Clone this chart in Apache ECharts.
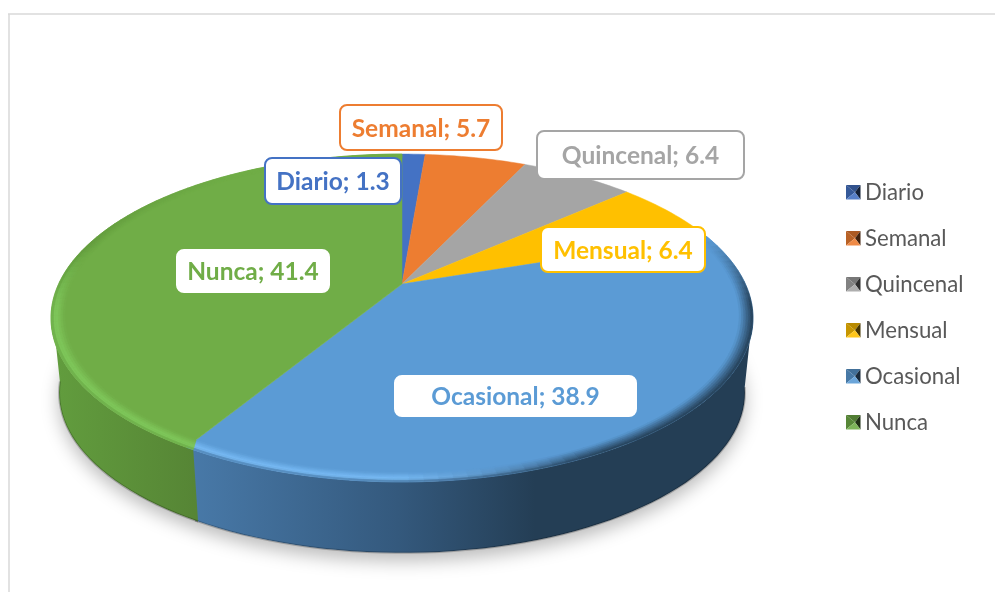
<!DOCTYPE html>
<html>
<head>
<meta charset="utf-8">
<style>
  html, body { margin: 0; padding: 0; background: #fff; }
  #chart { width: 995px; height: 592px; }
</style>
<script src="https://cdn.jsdelivr.net/npm/echarts@6/dist/echarts.min.js"></script>
</head>
<body>
<div id="chart"></div>
<script>
var categories = ['Diario', 'Semanal', 'Quincenal', 'Mensual', 'Ocasional', 'Nunca'];
var values = [1.3, 5.7, 6.4, 6.4, 38.9, 41.4];

var colors = ['#4472c4', '#ed7d31', '#a5a5a5', '#ffc000', '#5b9bd5', '#70ad47'];
var rimLight = ['#4472c4', '#ed7d31', '#a5a5a5', '#ffc000', '#7abdf6', '#80ca5d'];
// caja de cada etiqueta: izquierda, arriba, ancho, alto
var labelBoxes = [
  [265, 158, 136, 46], [340, 105, 162, 45], [537, 131, 207, 48],
  [541, 227, 164, 45], [395, 376, 241, 40], [177, 250, 152, 42]
];
var labelBorders = ['#4472c4', '#ed7d31', '#a5a5a5', '#ffc000', '#ffffff', '#ffffff'];

// proyeccion en perspectiva del disco
var apexX = 402, apexY = 284;
var scaleX = 343.4, scaleY = 156.9, persp = 0.2073;
var depth = 75.5, bottomScale = 0.977;
var seamShift = 1.2;

var total = values.reduce(function (a, b) { return a + b; }, 0);
var cum = 0;
var seriesData = values.map(function (v, i) {
  var row = [i, v, cum];
  cum += v;
  return row;
});
var seamAngle = seriesData[5][2] / total * 360;

function project(deg, r) {
  var t = deg * Math.PI / 180;
  var u = Math.sin(t) * r, v = Math.cos(t) * r;
  var w = 1 + persp * v;
  return [apexX + scaleX * u / w, apexY - scaleY * v / w];
}
function projectBottom(deg) {
  var t = deg * Math.PI / 180;
  var u = Math.sin(t), v = Math.cos(t);
  var w = 1 + persp * v;
  return [apexX + bottomScale * scaleX * u / w, apexY + depth - bottomScale * scaleY * v / w];
}
function range(a, b, step) {
  var out = [];
  var n = Math.max(1, Math.ceil((b - a) / step));
  for (var i = 0; i <= n; i++) out.push(a + (b - a) * i / n);
  return out;
}
function rgb(hex) {
  return [parseInt(hex.substr(1, 2), 16), parseInt(hex.substr(3, 2), 16), parseInt(hex.substr(5, 2), 16)];
}
function mix(a, b, t) {
  var c1 = rgb(a), c2 = rgb(b);
  var s = '#';
  for (var i = 0; i < 3; i++) {
    var c = Math.round(c1[i] + (c2[i] - c1[i]) * t);
    s += (c < 16 ? '0' : '') + c.toString(16);
  }
  return s;
}
function clamp(x) { return Math.max(0, Math.min(1, x)); }
function sliceAngles(api) {
  var a0 = api.value(2) / total * 360;
  return [a0, a0 + api.value(1) / total * 360];
}
// la costura azul/verde se endereza al llegar al borde
function seamWarp(d, amount) {
  return d - amount * clamp(1 - Math.abs(d - seamAngle) / 5);
}

var wallFill = [
  null, null, null, null,
  { type: 'linear', x: 192, y: 0, x2: 535, y2: 0, global: true, colorStops: [
    { offset: 0, color: '#4879a8' }, { offset: 0.6, color: '#34597d' }, { offset: 1, color: '#243e55' }
  ] },
  { type: 'linear', x: 52, y: 0, x2: 196, y2: 0, global: true, colorStops: [
    { offset: 0, color: '#629d3e' }, { offset: 1, color: '#568535' }
  ] }
];

function renderShadow(params, api) {
  if (params.dataIndex !== 0) return;
  var pts = range(0, 360, 3).map(projectBottom);
  return {
    type: 'polygon',
    shape: { points: pts },
    style: { fill: '#ffffff', shadowBlur: 18, shadowColor: 'rgba(0,0,0,0.27)', shadowOffsetY: 8 }
  };
}

function renderWall(params, api) {
  var i = params.dataIndex;
  if (!wallFill[i]) return;
  var a = sliceAngles(api);
  var a0 = Math.max(seamWarp(a[0], seamShift), 100), a1 = Math.min(seamWarp(a[1], seamShift), 262);
  // la pared azul pasa un poco por debajo de la verde para que no quede rendija
  if (i === 4) a1 += 0.5;
  var steps = range(a0, a1, 2);
  var top = steps.map(function (d) { return project(d, 1); });
  var bottom = steps.map(projectBottom);
  return {
    type: 'group',
    children: [
      {
        type: 'polygon',
        shape: { points: top.concat(bottom.slice().reverse()) },
        style: { fill: wallFill[i] }
      },
      {
        type: 'polyline',
        shape: { points: bottom },
        style: { fill: null, stroke: 'rgba(0,0,0,0.22)', lineWidth: 2 }
      }
    ]
  };
}

function renderFace(params, api) {
  var i = params.dataIndex;
  var a = sliceAngles(api);
  var pts = [[apexX, apexY]].concat(range(a[0], a[1], 1.5).map(function (d) { return project(d, 1); }));
  return {
    type: 'polygon',
    shape: { points: pts },
    style: { fill: colors[i], stroke: colors[i], lineWidth: 0.5 }
  };
}

// borde biselado del disco, claro a la izquierda y oscuro a la derecha
function renderBevel(params, api) {
  var i = params.dataIndex;
  if (i < 4) return;
  var a = sliceAngles(api);
  var bands = 6, inner = 0.962;
  var children = [];
  var steps = range(a[0], a[1], 2);
  for (var b = 0; b < bands; b++) {
    var r0 = inner + (1 - inner) * b / bands;
    var r1 = inner + (1 - inner) * (b + 1) / bands;
    var t = (b + 0.5) / bands;
    for (var k = 0; k < steps.length - 1; k++) {
      var d = (steps[k] + steps[k + 1]) / 2;
      var light, front, edge;
      if (i === 4) {
        light = clamp((d - 155) / 25);
        front = clamp((d - 72) / 25);
        edge = mix('#243e55', '#3f6d9a', clamp((d - 150) / 40));
      } else {
        light = clamp((285 - d) / 25);
        front = clamp((325 - d) / 55);
        edge = mix('#66a341', '#5d9439', clamp((d - 265) / 20));
      }
      var darkCol = mix(colors[i], edge, t);
      var lightCol = t < 0.7 ? mix(colors[i], rimLight[i], t / 0.7) : mix(rimLight[i], edge, (t - 0.7) / 0.3 * 0.8);
      var col = mix(colors[i], mix(darkCol, lightCol, light), front);
      var s0 = seamShift * b / bands, s1 = seamShift * (b + 1) / bands;
      children.push({
        type: 'polygon',
        shape: { points: [
          project(seamWarp(steps[k], s0), r0), project(seamWarp(steps[k + 1], s0), r0),
          project(seamWarp(steps[k + 1], s1), r1), project(seamWarp(steps[k], s1), r1)
        ] },
        style: { fill: col, stroke: col, lineWidth: 0.6 }
      });
    }
  }
  return { type: 'group', children: children };
}

function renderLabel(params, api) {
  var i = params.dataIndex;
  var box = labelBoxes[i];
  return {
    type: 'group',
    children: [
      {
        type: 'rect',
        shape: { x: box[0], y: box[1], width: box[2], height: box[3], r: 7 },
        style: { fill: '#ffffff', stroke: labelBorders[i], lineWidth: 2 }
      },
      {
        type: 'text',
        style: {
          x: box[0] + box[2] / 2,
          y: box[1] + box[3] / 2 + 1.5,
          text: categories[i] + '; ' + api.value(1),
          align: 'center',
          verticalAlign: 'middle',
          fill: colors[i],
          font: 'bold 24.5px Lato'
        }
      }
    ]
  };
}

// cuadro de leyenda con cuatro triangulos, como el bisel del original
function renderLegend(params, api) {
  var i = params.dataIndex;
  var x = 846, y = 185 + i * 46, s = 14.5;
  var cx = x + s * 0.62, cy = y + s * 0.5;
  var base = colors[i];
  function tri(p1, p2, col) {
    return { type: 'polygon', shape: { points: [p1, p2, [cx, cy]] }, style: { fill: col } };
  }
  return {
    type: 'group',
    children: [
      tri([x, y], [x + s, y], mix(base, '#000000', 0.28)),
      tri([x, y + s], [x, y], mix(base, '#000000', 0.22)),
      tri([x + s, y], [x + s, y + s], mix(base, '#000000', 0.72)),
      tri([x + s, y + s], [x, y + s], mix(base, '#ffffff', 0.1)),
      {
        type: 'text',
        style: {
          x: 865,
          y: y + s / 2 + 1,
          text: categories[i],
          align: 'left',
          verticalAlign: 'middle',
          fill: '#595959',
          font: '22.2px Lato'
        }
      }
    ]
  };
}

function layer(name, fn) {
  return {
    type: 'custom',
    name: name,
    coordinateSystem: 'none',
    silent: true,
    animation: false,
    renderItem: fn,
    data: seriesData
  };
}

var chart = echarts.init(document.getElementById('chart'), null, { renderer: 'canvas' });
chart.setOption({
  animation: false,
  backgroundColor: '#ffffff',
  graphic: [
    { type: 'line', shape: { x1: 8, y1: 14, x2: 995, y2: 14 }, style: { stroke: '#d9d9d9', lineWidth: 1.5 } },
    { type: 'line', shape: { x1: 9, y1: 14, x2: 9, y2: 592 }, style: { stroke: '#d9d9d9', lineWidth: 1.5 } }
  ],
  series: [
    layer('sombra', renderShadow),
    layer('pared', renderWall),
    layer('cara', renderFace),
    layer('bisel', renderBevel),
    layer('etiquetas', renderLabel),
    layer('leyenda', renderLegend)
  ]
});
</script>
</body>
</html>
